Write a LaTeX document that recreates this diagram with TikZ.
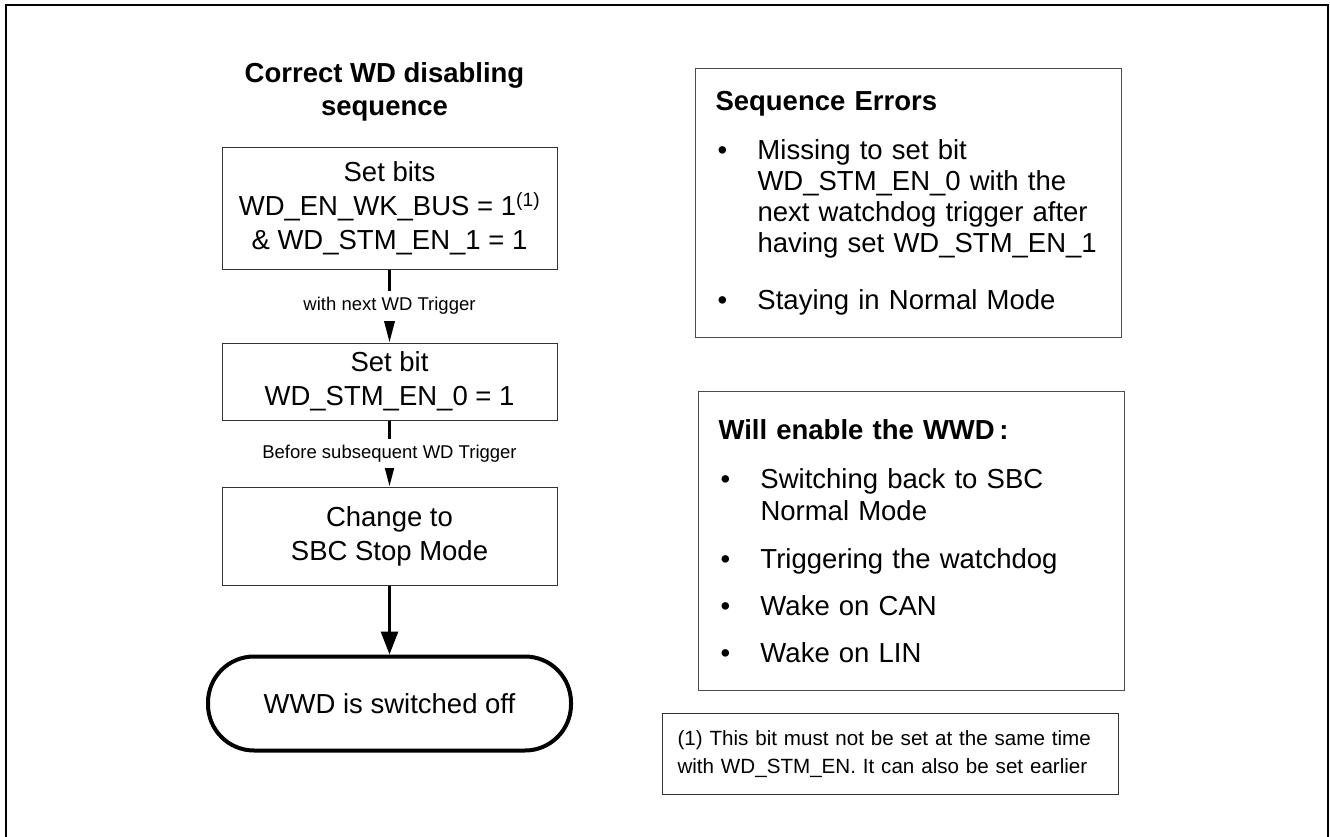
\documentclass[tikz,border=0pt]{standalone}
\usepackage{fontspec}
\setmainfont{Liberation Sans}
\usetikzlibrary{arrows.meta, positioning}

\newcommand{\wdbullet}{\makebox[42pt][l]{\hspace{2pt}\textbullet}}
\newcommand{\wdindent}{\hspace*{42pt}}

\begin{document}
\begin{tikzpicture}[
    x=1pt, y=-1pt,
    flowbox/.style={
      rectangle,
      draw=black!80,
      line width=1pt,
      minimum width=335pt,
      inner sep=0pt,
      align=center,
      font=\fontsize{27.5}{34}\selectfont
    },
    terminal/.style={
      rectangle,
      draw=black,
      line width=4pt,
      rounded corners=46pt,
      minimum width=363pt,
      minimum height=94pt,
      align=center,
      font=\fontsize{27.5}{34}\selectfont
    },
    infobox/.style={
      rectangle,
      draw=black!70,
      line width=1pt,
      minimum width=426pt,
      text width=386pt,
      inner xsep=20pt,
      align=left,
      anchor=north west,
      font=\fontsize{27.5}{31}\selectfont
    },
    notebox/.style={
      rectangle,
      draw=black!80,
      line width=1pt,
      minimum width=456pt,
      minimum height=81pt,
      text width=426pt,
      inner xsep=15pt,
      align=left,
      anchor=north west,
      font=\fontsize{20.6}{28}\selectfont
    },
    steplabel/.style={
      fill=white,
      inner xsep=2pt,
      inner ysep=6pt,
      font=\fontsize{18.5}{22}\selectfont
    },
    arrow/.style={
      -{Triangle[width=12pt,length=25pt]},
      line width=3pt,
      draw=black
    }
  ]
    \useasboundingbox (0,0) rectangle (1330,837);

    % Frame
    \draw[line width=1.5pt] (6,845) -- (6,5) -- (1328,5) -- (1328,845);

    % Left column: disabling sequence
    \node (setbits) [flowbox, minimum height=121pt] at (389.5,208.5)
      {Set bits\\WD\_EN\_WK\_BUS = 1\textsuperscript{(1)}\\\& WD\_STM\_EN\_1 = 1};
    \node (title) [above=26pt of setbits, xshift=-5pt, inner sep=0pt, align=center,
      font=\fontsize{27.5}{33}\selectfont\bfseries]
      {Correct WD disabling\\sequence};
    \node (setbit0) [flowbox, minimum height=77pt, below=73pt of setbits]
      {Set bit\\WD\_STM\_EN\_0 = 1};
    \node (stopmode) [flowbox, minimum height=98pt, below=66pt of setbit0]
      {Change to\\SBC Stop Mode};
    \node (wwdoff) [terminal, below=69pt of stopmode] {WWD is switched off};

    % Right column: notes
    \node (seqerr) [infobox, minimum height=269pt] at (695,68)
      {{\bfseries Sequence Errors}\\[18pt]
       \wdbullet Missing to set bit\\
       \wdindent WD\_STM\_EN\_0 with the\\
       \wdindent next watchdog trigger after\\
       \wdindent having set WD\_STM\_EN\_1\\[26pt]
       \wdbullet Staying in Normal Mode};
    \node (wwdon) [infobox, minimum height=299pt,
      font=\fontsize{27.5}{32}\selectfont] at (698,391)
      {{\bfseries Will enable the WWD\,:}\\[17pt]
       \wdbullet Switching back to SBC\\
       \wdindent Normal Mode\\[16pt]
       \wdbullet Triggering the watchdog\\[15pt]
       \wdbullet Wake on CAN\\[15pt]
       \wdbullet Wake on LIN};
    \node (note) [notebox] at (662,713)
      {(1) This bit must not be set at the same time\\
       with WD\_STM\_EN. It can also be set earlier};

    % Connections
    \draw [arrow] (setbits.south) -- node[steplabel] {with next WD Trigger} (setbit0.north);
    \draw [arrow] (setbit0.south) -- node[steplabel] {Before subsequent WD Trigger} (stopmode.north);
    \draw [arrow, -{Triangle[width=17pt,length=23pt]}] (stopmode.south) -- (wwdoff.north);

  \end{tikzpicture}
\end{document}
